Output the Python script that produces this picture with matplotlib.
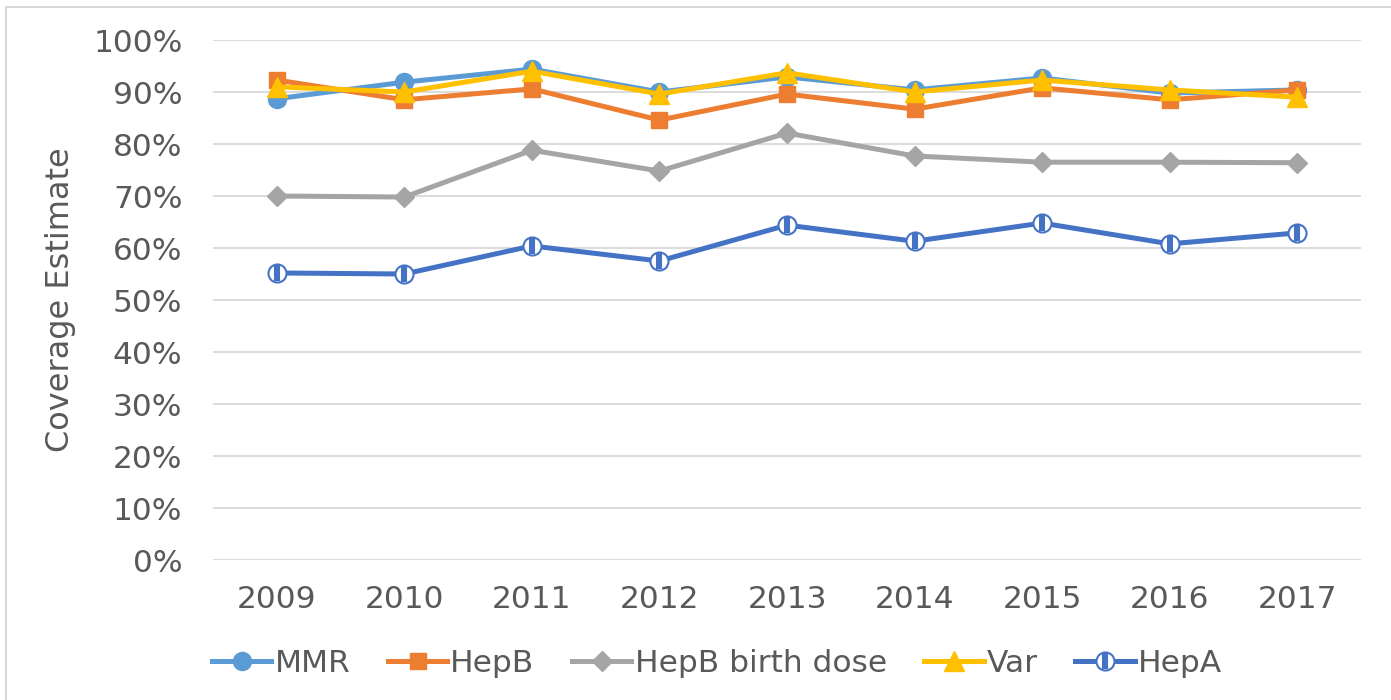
import matplotlib
matplotlib.use("Agg")
import matplotlib.pyplot as plt
from matplotlib.path import Path
from matplotlib.patches import Rectangle
from matplotlib.ticker import PercentFormatter
from matplotlib.legend_handler import HandlerTuple

years = ["2009", "2010", "2011", "2012", "2013", "2014", "2015", "2016", "2017"]
mmr = [88.7, 91.9, 94.4, 90.0, 92.9, 90.4, 92.7, 89.8, 90.4]
hepb = [92.3, 88.5, 90.6, 84.6, 89.6, 86.7, 90.8, 88.5, 90.4]
hepb_birth = [70.0, 69.8, 78.8, 74.8, 82.1, 77.7, 76.5, 76.5, 76.4]
var = [91.0, 90.0, 94.0, 89.6, 93.7, 90.0, 92.3, 90.4, 89.0]
hepa = [55.2, 55.0, 60.4, 57.5, 64.4, 61.3, 64.8, 60.8, 62.9]

TXT = "#595959"
FS = 22.5
plt.rcParams["font.family"] = ["DejaVu Sans"]

fig = plt.figure(figsize=(13.91, 7.0), dpi=100)
fig.patches.append(Rectangle((6 / 1391, -0.1), 1.2, 1 - 7 / 700 + 0.1, transform=fig.transFigure,
                             fill=False, edgecolor="#D9D9D9", linewidth=1.5))
ax = fig.add_axes([213 / 1391, 0.2, 1148 / 1391, 520 / 700])

x = list(range(len(years)))
lw = 3.6
h1, = ax.plot(x, mmr, color="#5B9BD5", lw=lw, marker="o", ms=13, label="MMR", zorder=3)
h2, = ax.plot(x, hepb, color="#ED7D31", lw=lw, marker="s", ms=12, label="HepB", zorder=3)
h3, = ax.plot(x, hepb_birth, color="#A5A5A5", lw=lw, marker="D", ms=10, label="HepB birth dose", zorder=3)
h4, = ax.plot(x, var, color="#FFC000", lw=lw, marker="^", ms=14, label="Var", zorder=3)

# striped circle marker for HepA
stripes = Path([(-0.25, -0.9), (-0.25, 0.9), (0.25, -0.9), (0.25, 0.9), (0, -1), (0, 1)],
               [Path.MOVETO, Path.LINETO, Path.MOVETO, Path.LINETO, Path.MOVETO, Path.LINETO])
h5a, = ax.plot(x, hepa, color="#4472C4", lw=lw, marker="o", ms=13, mfc="white", mec="#4472C4",
               mew=1.5, zorder=4)
h5b, = ax.plot(x, hepa, linestyle="none", marker=stripes, ms=12, mec="#4472C4", mew=1.5, zorder=5)

ax.set_xlim(-0.5, len(years) - 0.5)
ax.set_ylim(0, 100)
ax.set_xticks(x)
ax.set_xticklabels(years)
ax.set_yticks(range(0, 101, 10))
ax.yaxis.set_major_formatter(PercentFormatter(decimals=0))
ax.tick_params(axis="both", length=0, labelsize=FS, labelcolor=TXT)
ax.tick_params(axis="y", pad=22)
ax.tick_params(axis="x", pad=18)
ax.grid(axis="y", color="#D9D9D9", lw=1.3, zorder=0)
ax.set_axisbelow(True)
for s in ax.spines.values():
    s.set_visible(False)
ax.set_ylabel("Coverage Estimate", fontsize=FS + 0.5, color=TXT, labelpad=12)

handles = [h1, h2, h3, h4, (h5a, h5b)]
labels = ["MMR", "HepB", "HepB birth dose", "Var", "HepA"]
leg = fig.legend(handles, labels, loc="center", bbox_to_anchor=(717 / 1391, 1 - 663 / 700),
                 ncol=5, frameon=False, fontsize=FS, handlelength=1.9, handletextpad=0.1,
                 columnspacing=1.2, labelcolor=TXT,
                 handler_map={tuple: HandlerTuple(ndivide=1, pad=0)})

fig.savefig("out.png", dpi=100)
